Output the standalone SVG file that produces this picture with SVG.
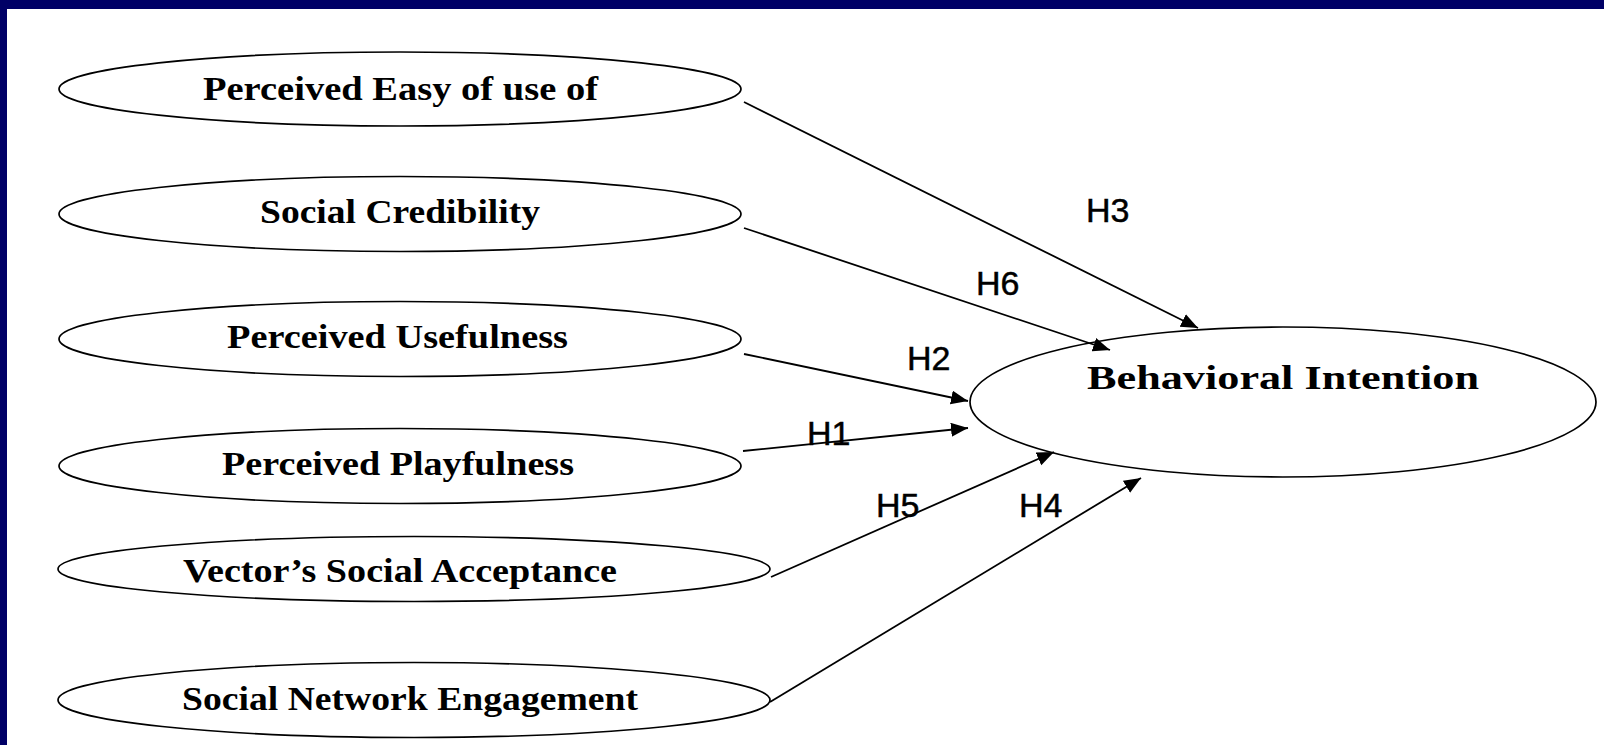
<svg xmlns="http://www.w3.org/2000/svg" width="1604" height="745" viewBox="0 0 1604 745">
  <style>
    .node ellipse { fill: #ffffff; stroke: #000000; stroke-width: 1.7; }
    .lbl { font-family: "Liberation Serif", "Times New Roman", serif; font-weight: bold; font-size: 34px; fill: #000000; }
    .edge { stroke: #000000; stroke-width: 1.8; fill: none; marker-end: url(#arrow); }
    .h { font-family: "Liberation Sans", Arial, sans-serif; font-size: 34px; fill: #000000; stroke: #000000; stroke-width: 0.5; }
  </style>
  <defs>
    <marker id="arrow" markerUnits="userSpaceOnUse" markerWidth="19" markerHeight="15" refX="17" refY="7" orient="auto">
      <path d="M0,0 L17,7 L0,14 z" fill="#000000"/>
    </marker>
  </defs>
  <rect x="0" y="0" width="1604" height="745" fill="#ffffff"/>
  <rect x="0" y="0" width="1604" height="9" fill="#000066"/>
  <rect x="0" y="0" width="7" height="745" fill="#000066"/>

  <g id="node-peou" class="node">
    <ellipse cx="400" cy="89" rx="341" ry="37"/>
    <text class="lbl" x="203" y="100" textLength="395" lengthAdjust="spacingAndGlyphs">Perceived Easy of use of</text>
  </g>
  <g id="node-sc" class="node">
    <ellipse cx="400" cy="214" rx="341" ry="37.5"/>
    <text class="lbl" x="260" y="223" textLength="280" lengthAdjust="spacingAndGlyphs">Social Credibility</text>
  </g>
  <g id="node-pu" class="node">
    <ellipse cx="400" cy="339" rx="341" ry="37.5"/>
    <text class="lbl" x="227" y="348" textLength="341" lengthAdjust="spacingAndGlyphs">Perceived Usefulness</text>
  </g>
  <g id="node-pp" class="node">
    <ellipse cx="400" cy="466" rx="341" ry="37.5"/>
    <text class="lbl" x="222" y="475" textLength="352" lengthAdjust="spacingAndGlyphs">Perceived Playfulness</text>
  </g>
  <g id="node-vsa" class="node">
    <ellipse cx="414" cy="569" rx="356" ry="32.5"/>
    <text class="lbl" x="183" y="582" textLength="434" lengthAdjust="spacingAndGlyphs">Vector’s Social Acceptance</text>
  </g>
  <g id="node-sne" class="node">
    <ellipse cx="414" cy="700" rx="356" ry="37.5"/>
    <text class="lbl" x="182" y="710" textLength="456" lengthAdjust="spacingAndGlyphs">Social Network Engagement</text>
  </g>
  <g id="node-bi" class="node">
    <ellipse cx="1283" cy="402" rx="313" ry="75"/>
    <text class="lbl" x="1087" y="389" textLength="392" lengthAdjust="spacingAndGlyphs">Behavioral Intention</text>
  </g>

  <g id="connectors">
    <line class="edge" x1="744" y1="102" x2="1198" y2="328"/>
    <line class="edge" x1="744" y1="228" x2="1110" y2="350"/>
    <line class="edge" x1="744" y1="354" x2="968" y2="401"/>
    <line class="edge" x1="743" y1="451" x2="968" y2="428"/>
    <line class="edge" x1="771" y1="577" x2="1054" y2="452"/>
    <line class="edge" x1="770" y1="702" x2="1141" y2="478"/>
    <text class="h" x="1086" y="222">H3</text>
    <text class="h" x="976" y="295">H6</text>
    <text class="h" x="907" y="370">H2</text>
    <text class="h" x="807" y="445">H1</text>
    <text class="h" x="876" y="517">H5</text>
    <text class="h" x="1019" y="517">H4</text>
  </g>
</svg>
